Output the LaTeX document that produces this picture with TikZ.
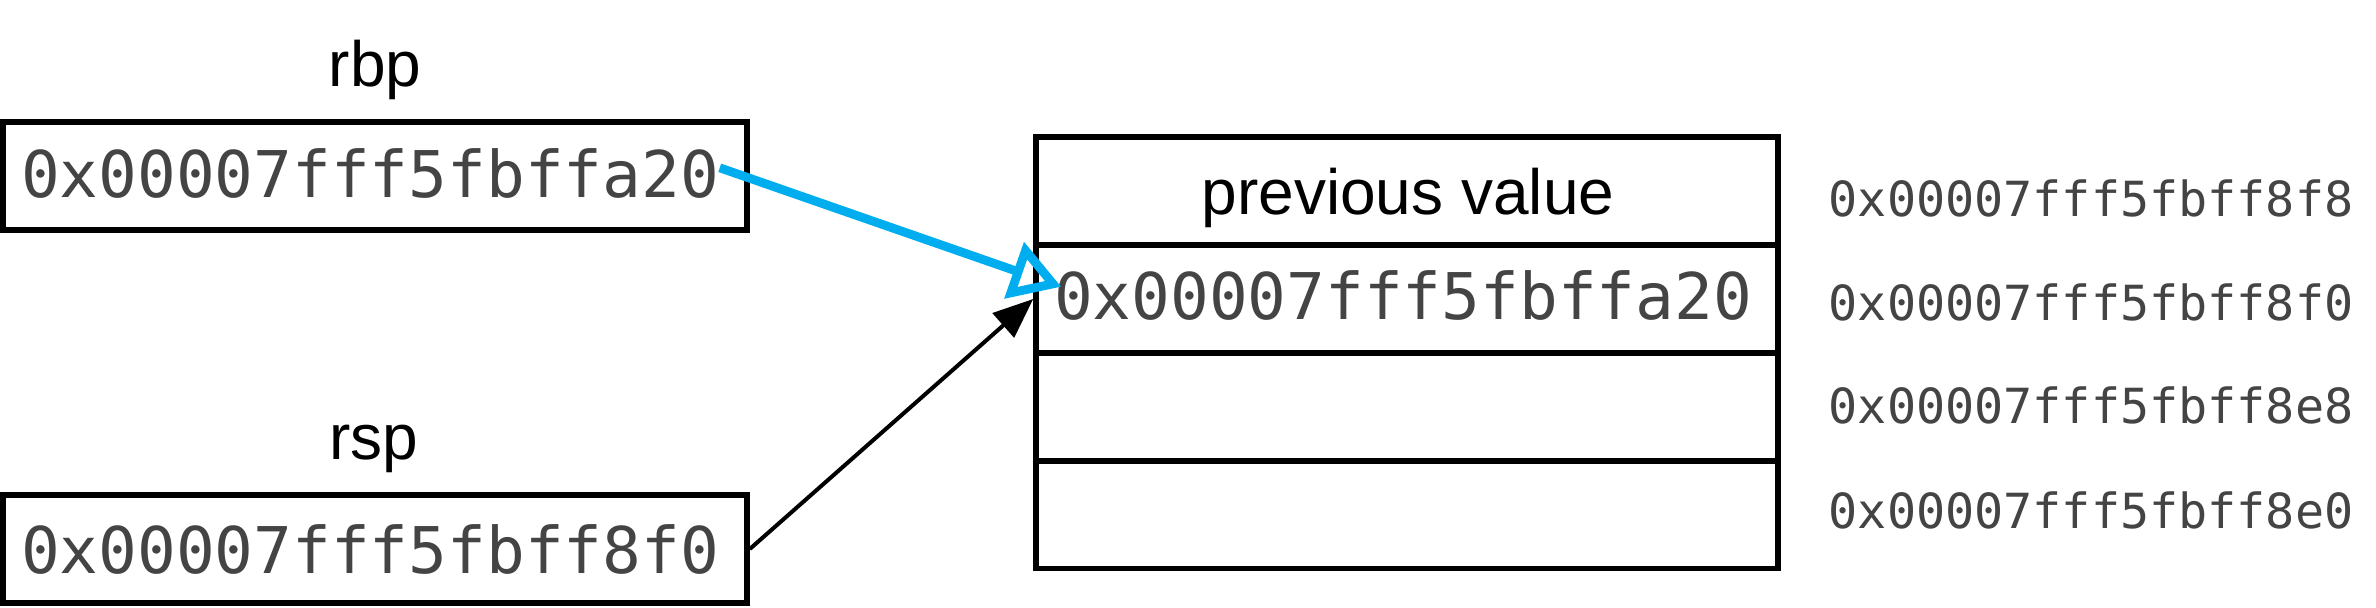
\documentclass[tikz,border=0pt]{standalone}
\usepackage{fontspec}
\setmainfont{Liberation Sans}
\newfontfamily\monofam{DejaVu Sans Mono}
\usetikzlibrary{arrows.meta,calc}
\definecolor{ptrblue}{RGB}{0,174,239}
\definecolor{hexgray}{RGB}{68,68,68}
\begin{document}
\begin{tikzpicture}[x=0.25pt,y=-0.25pt,
  box/.style={draw, line width=1.4pt, minimum width=186pt, minimum height=27pt, inner sep=0pt},
  cell/.style={draw, line width=1.4pt, minimum width=185.5pt, minimum height=27pt, inner sep=0pt},
  lbl/.style={font=\fontsize{16}{19}\selectfont, inner sep=0pt, anchor=base},
  hexbig/.style={font=\monofam\fontsize{16.1}{19}\selectfont, text=hexgray, inner sep=0pt, anchor=base},
  hexsmall/.style={font=\monofam\fontsize{12.1}{14}\selectfont, text=hexgray, inner sep=0pt, anchor=west},
  ptr/.style={line width=1pt, -{Triangle[length=10pt,width=8pt]}},
  ptrb/.style={ptrblue, line width=2.2pt, -{Triangle[open,length=12.5pt,width=14.5pt]}}
]
\useasboundingbox (0,0) rectangle (2376,608);
% registers
\node[box] (rbpbox) at (375,176) {};
\node[box] (rspbox) at (375,549) {};
\node[lbl] (rbplbl) at (375,87) {rbp};
\node[lbl] (rsplbl) at (374,460) {rsp};
\node[hexbig] (rbpval) at (370,198) {0x00007fff5fbffa20};
\node[hexbig] (rspval) at (370,573) {0x00007fff5fbff8f0};
% stack
\node[cell] (c1) at (1407,191) {};
\node[cell] (c2) at (1407,299) {};
\node[cell] (c3) at (1407,407) {};
\node[cell] (c4) at (1407,514.5) {};
\node[lbl] (prev) at (1408,215) {previous value};
\node[hexbig] (stackval) at (1403,320) {0x00007fff5fbffa20};
% addresses
\node[hexsmall] (a1) at (1828,198.5) {0x00007fff5fbff8f8};
\node[hexsmall] (a2) at (1828,302) {0x00007fff5fbff8f0};
\node[hexsmall] (a3) at (1828,405.5) {0x00007fff5fbff8e8};
\node[hexsmall] (a4) at (1828,510) {0x00007fff5fbff8e0};
% pointers
\draw[ptr] (rspbox.east) -- (c2.west);
\draw[ptrb] ($(rbpval.south east)!0.62!(rbpval.north east)$) -- ($(stackval.south west)!0.68!(stackval.north west)+(8,0)$);
\end{tikzpicture}
\end{document}
